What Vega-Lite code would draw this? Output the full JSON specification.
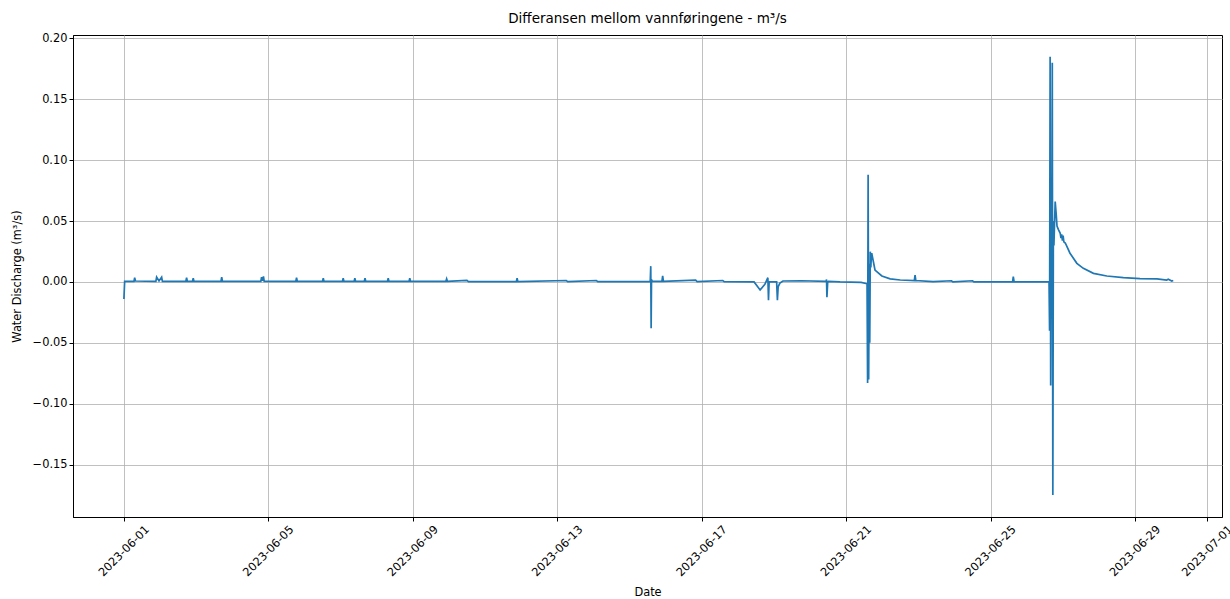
{
  "$schema": "https://vega.github.io/schema/vega-lite/v6.json",
  "width": 1149,
  "height": 482,
  "autosize": {"type": "none"},
  "padding": {"left": 73, "top": 35, "right": 8, "bottom": 82},
  "background": "white",
  "config": {
    "font": "DejaVu Sans",
    "view": {"stroke": "black", "strokeWidth": 1},
    "axis": {
      "labelFont": "DejaVu Sans", "titleFont": "DejaVu Sans",
      "labelFontSize": 11.4, "titleFontSize": 11.4,
      "labelColor": "#000000", "titleColor": "#000000", "titleFontWeight": "normal",
      "domainColor": "#000000", "tickColor": "#000000", "tickSize": 4,
      "gridColor": "#b0b0b0", "gridWidth": 0.8, "gridOpacity": 1
    }
  },
  "title": {"text": "Differansen mellom vannføringene - m³/s", "font": "DejaVu Sans", "fontSize": 13.5, "fontWeight": "normal", "color": "#000000", "offset": 7},
  "data": {"values": [
    {"time": "2023-06-01T00:00", "diff": -0.014},
    {"time": "2023-06-01T00:30", "diff": 0.0005},
    {"time": "2023-06-01T06:40", "diff": 0.0005},
    {"time": "2023-06-01T07:10", "diff": 0.0035},
    {"time": "2023-06-01T07:40", "diff": 0.0008},
    {"time": "2023-06-01T21:15", "diff": 0.0005},
    {"time": "2023-06-01T21:45", "diff": 0.004},
    {"time": "2023-06-01T23:20", "diff": 0.0008},
    {"time": "2023-06-02T01:05", "diff": 0.004},
    {"time": "2023-06-02T01:35", "diff": 0.0005},
    {"time": "2023-06-02T17:10", "diff": 0.0005},
    {"time": "2023-06-02T17:40", "diff": 0.0035},
    {"time": "2023-06-02T18:10", "diff": 0.0005},
    {"time": "2023-06-02T21:35", "diff": 0.0005},
    {"time": "2023-06-02T22:05", "diff": 0.003},
    {"time": "2023-06-02T22:35", "diff": 0.0005},
    {"time": "2023-06-03T16:30", "diff": 0.0005},
    {"time": "2023-06-03T17:00", "diff": 0.004},
    {"time": "2023-06-03T17:30", "diff": 0.0005},
    {"time": "2023-06-04T19:00", "diff": 0.0005},
    {"time": "2023-06-04T19:30", "diff": 0.004},
    {"time": "2023-06-04T20:05", "diff": 0.001},
    {"time": "2023-06-04T20:45", "diff": 0.0045},
    {"time": "2023-06-04T21:15", "diff": 0.0005},
    {"time": "2023-06-05T18:15", "diff": 0.0005},
    {"time": "2023-06-05T18:45", "diff": 0.0035},
    {"time": "2023-06-05T19:15", "diff": 0.0005},
    {"time": "2023-06-06T12:00", "diff": 0.0005},
    {"time": "2023-06-06T12:30", "diff": 0.003},
    {"time": "2023-06-06T13:00", "diff": 0.0005},
    {"time": "2023-06-07T01:15", "diff": 0.0005},
    {"time": "2023-06-07T01:45", "diff": 0.003},
    {"time": "2023-06-07T02:15", "diff": 0.0005},
    {"time": "2023-06-07T09:00", "diff": 0.0005},
    {"time": "2023-06-07T09:30", "diff": 0.003},
    {"time": "2023-06-07T10:00", "diff": 0.0005},
    {"time": "2023-06-07T15:45", "diff": 0.0005},
    {"time": "2023-06-07T16:15", "diff": 0.003},
    {"time": "2023-06-07T16:45", "diff": 0.0005},
    {"time": "2023-06-08T07:10", "diff": 0.0005},
    {"time": "2023-06-08T07:40", "diff": 0.003},
    {"time": "2023-06-08T08:10", "diff": 0.0005},
    {"time": "2023-06-08T21:30", "diff": 0.0005},
    {"time": "2023-06-08T22:00", "diff": 0.003},
    {"time": "2023-06-08T22:30", "diff": 0.0005},
    {"time": "2023-06-09T22:00", "diff": 0.0005},
    {"time": "2023-06-09T22:30", "diff": 0.0025},
    {"time": "2023-06-09T23:00", "diff": 0.0005},
    {"time": "2023-06-10T12:00", "diff": 0.0013},
    {"time": "2023-06-10T13:00", "diff": 0.0003},
    {"time": "2023-06-11T20:50", "diff": 0.0003},
    {"time": "2023-06-11T21:20", "diff": 0.003},
    {"time": "2023-06-11T21:50", "diff": 0.0003},
    {"time": "2023-06-13T06:00", "diff": 0.0012},
    {"time": "2023-06-13T07:00", "diff": 0.0003},
    {"time": "2023-06-14T02:00", "diff": 0.0012},
    {"time": "2023-06-14T03:00", "diff": 0.0003},
    {"time": "2023-06-15T13:50", "diff": 0.0005},
    {"time": "2023-06-15T14:10", "diff": 0.013},
    {"time": "2023-06-15T14:25", "diff": -0.038},
    {"time": "2023-06-15T14:40", "diff": 0.002},
    {"time": "2023-06-15T15:10", "diff": 0.0005},
    {"time": "2023-06-15T21:35", "diff": 0.0005},
    {"time": "2023-06-15T22:05", "diff": 0.005},
    {"time": "2023-06-15T22:35", "diff": 0.0005},
    {"time": "2023-06-16T20:00", "diff": 0.0015},
    {"time": "2023-06-16T21:00", "diff": 0.0003},
    {"time": "2023-06-17T14:00", "diff": 0.0012},
    {"time": "2023-06-17T15:00", "diff": 0.0002},
    {"time": "2023-06-18T10:50", "diff": 0.0},
    {"time": "2023-06-18T14:50", "diff": -0.0066},
    {"time": "2023-06-18T18:00", "diff": -0.002},
    {"time": "2023-06-18T20:00", "diff": 0.0035},
    {"time": "2023-06-18T20:25", "diff": -0.015},
    {"time": "2023-06-18T20:50", "diff": 0.0},
    {"time": "2023-06-19T01:50", "diff": 0.0},
    {"time": "2023-06-19T02:20", "diff": -0.015},
    {"time": "2023-06-19T02:50", "diff": -0.004},
    {"time": "2023-06-19T04:00", "diff": -0.001},
    {"time": "2023-06-19T06:00", "diff": 0.0008},
    {"time": "2023-06-19T18:00", "diff": 0.001},
    {"time": "2023-06-20T10:45", "diff": 0.0005},
    {"time": "2023-06-20T11:00", "diff": 0.002},
    {"time": "2023-06-20T11:15", "diff": -0.0126},
    {"time": "2023-06-20T11:45", "diff": -0.0005},
    {"time": "2023-06-20T12:15", "diff": 0.0005},
    {"time": "2023-06-20T20:00", "diff": 0.0},
    {"time": "2023-06-21T10:00", "diff": -0.0003},
    {"time": "2023-06-21T13:55", "diff": -0.0015},
    {"time": "2023-06-21T14:17", "diff": -0.083},
    {"time": "2023-06-21T14:38", "diff": 0.088},
    {"time": "2023-06-21T15:00", "diff": -0.08},
    {"time": "2023-06-21T15:22", "diff": 0.015},
    {"time": "2023-06-21T15:43", "diff": -0.05},
    {"time": "2023-06-21T16:05", "diff": 0.0249},
    {"time": "2023-06-21T16:26", "diff": 0.012},
    {"time": "2023-06-21T16:48", "diff": 0.022},
    {"time": "2023-06-21T17:02", "diff": 0.0236},
    {"time": "2023-06-21T19:12", "diff": 0.0098},
    {"time": "2023-06-21T23:46", "diff": 0.0049},
    {"time": "2023-06-22T05:17", "diff": 0.0025},
    {"time": "2023-06-22T12:00", "diff": 0.0016},
    {"time": "2023-06-22T21:20", "diff": 0.0012},
    {"time": "2023-06-22T21:50", "diff": 0.0057},
    {"time": "2023-06-22T22:20", "diff": 0.0012},
    {"time": "2023-06-23T09:50", "diff": 0.0003},
    {"time": "2023-06-23T22:00", "diff": 0.001},
    {"time": "2023-06-23T23:00", "diff": 0.0},
    {"time": "2023-06-24T12:00", "diff": 0.001},
    {"time": "2023-06-24T13:00", "diff": 0.0},
    {"time": "2023-06-25T14:40", "diff": 0.0},
    {"time": "2023-06-25T15:07", "diff": 0.0044},
    {"time": "2023-06-25T15:40", "diff": 0.0},
    {"time": "2023-06-26T14:53", "diff": 0.0},
    {"time": "2023-06-26T15:14", "diff": -0.04},
    {"time": "2023-06-26T15:36", "diff": 0.185},
    {"time": "2023-06-26T15:58", "diff": -0.085},
    {"time": "2023-06-26T16:19", "diff": 0.06},
    {"time": "2023-06-26T16:41", "diff": -0.03},
    {"time": "2023-06-26T17:02", "diff": 0.18},
    {"time": "2023-06-26T17:24", "diff": -0.175},
    {"time": "2023-06-26T17:46", "diff": 0.05},
    {"time": "2023-06-26T18:07", "diff": 0.03},
    {"time": "2023-06-26T18:58", "diff": 0.066},
    {"time": "2023-06-26T19:41", "diff": 0.055},
    {"time": "2023-06-26T20:10", "diff": 0.046},
    {"time": "2023-06-26T21:07", "diff": 0.043},
    {"time": "2023-06-26T22:19", "diff": 0.04},
    {"time": "2023-06-26T22:48", "diff": 0.036},
    {"time": "2023-06-26T23:17", "diff": 0.039},
    {"time": "2023-06-26T23:46", "diff": 0.034},
    {"time": "2023-06-27T00:14", "diff": 0.038},
    {"time": "2023-06-27T00:43", "diff": 0.033},
    {"time": "2023-06-27T01:41", "diff": 0.032},
    {"time": "2023-06-27T04:48", "diff": 0.0236},
    {"time": "2023-06-27T09:22", "diff": 0.0153},
    {"time": "2023-06-27T13:41", "diff": 0.0112},
    {"time": "2023-06-27T20:24", "diff": 0.0071},
    {"time": "2023-06-28T05:17", "diff": 0.0049},
    {"time": "2023-06-28T16:19", "diff": 0.0035},
    {"time": "2023-06-29T03:22", "diff": 0.0027},
    {"time": "2023-06-29T14:38", "diff": 0.0025},
    {"time": "2023-06-29T21:07", "diff": 0.0016},
    {"time": "2023-06-29T22:05", "diff": 0.0022},
    {"time": "2023-06-30T00:29", "diff": 0.0008},
    {"time": "2023-06-30T01:26", "diff": 0.0012}
  ]},
  "mark": {"type": "line", "color": "#1f77b4", "strokeWidth": 1.7, "clip": true},
  "encoding": {
    "x": {
      "field": "time", "type": "temporal", "title": "Date",
      "scale": {"domain": [
        {"year": 2023, "month": 5, "date": 30, "hours": 14, "minutes": 10},
        {"year": 2023, "month": 7, "date": 1, "hours": 9, "minutes": 50}
      ], "nice": false},
      "axis": {
        "values": [
          {"year": 2023, "month": 6, "date": 1},
          {"year": 2023, "month": 6, "date": 5},
          {"year": 2023, "month": 6, "date": 9},
          {"year": 2023, "month": 6, "date": 13},
          {"year": 2023, "month": 6, "date": 17},
          {"year": 2023, "month": 6, "date": 21},
          {"year": 2023, "month": 6, "date": 25},
          {"year": 2023, "month": 6, "date": 29},
          {"year": 2023, "month": 7, "date": 1}
        ],
        "format": "%Y-%m-%d",
        "labelAngle": -45, "labelAlign": "center", "labelBaseline": "middle",
        "labelPadding": 30, "labelOverlap": false, "labelFlush": false, "labelBound": false,
        "titleY": 75, "titleBaseline": "middle", "titleAlign": "center",
        "grid": true
      }
    },
    "y": {
      "field": "diff", "type": "quantitative", "title": "Water Discharge (m³/s)",
      "scale": {"domain": [-0.193, 0.2028], "nice": false, "zero": false},
      "axis": {
        "values": [-0.15, -0.1, -0.05, 0, 0.05, 0.1, 0.15, 0.2],
        "format": ".2f", "labelPadding": 2,
        "titleX": -56, "titleY": 241, "titleAngle": -90, "titleBaseline": "middle", "titleAlign": "center",
        "grid": true
      }
    }
  }
}
